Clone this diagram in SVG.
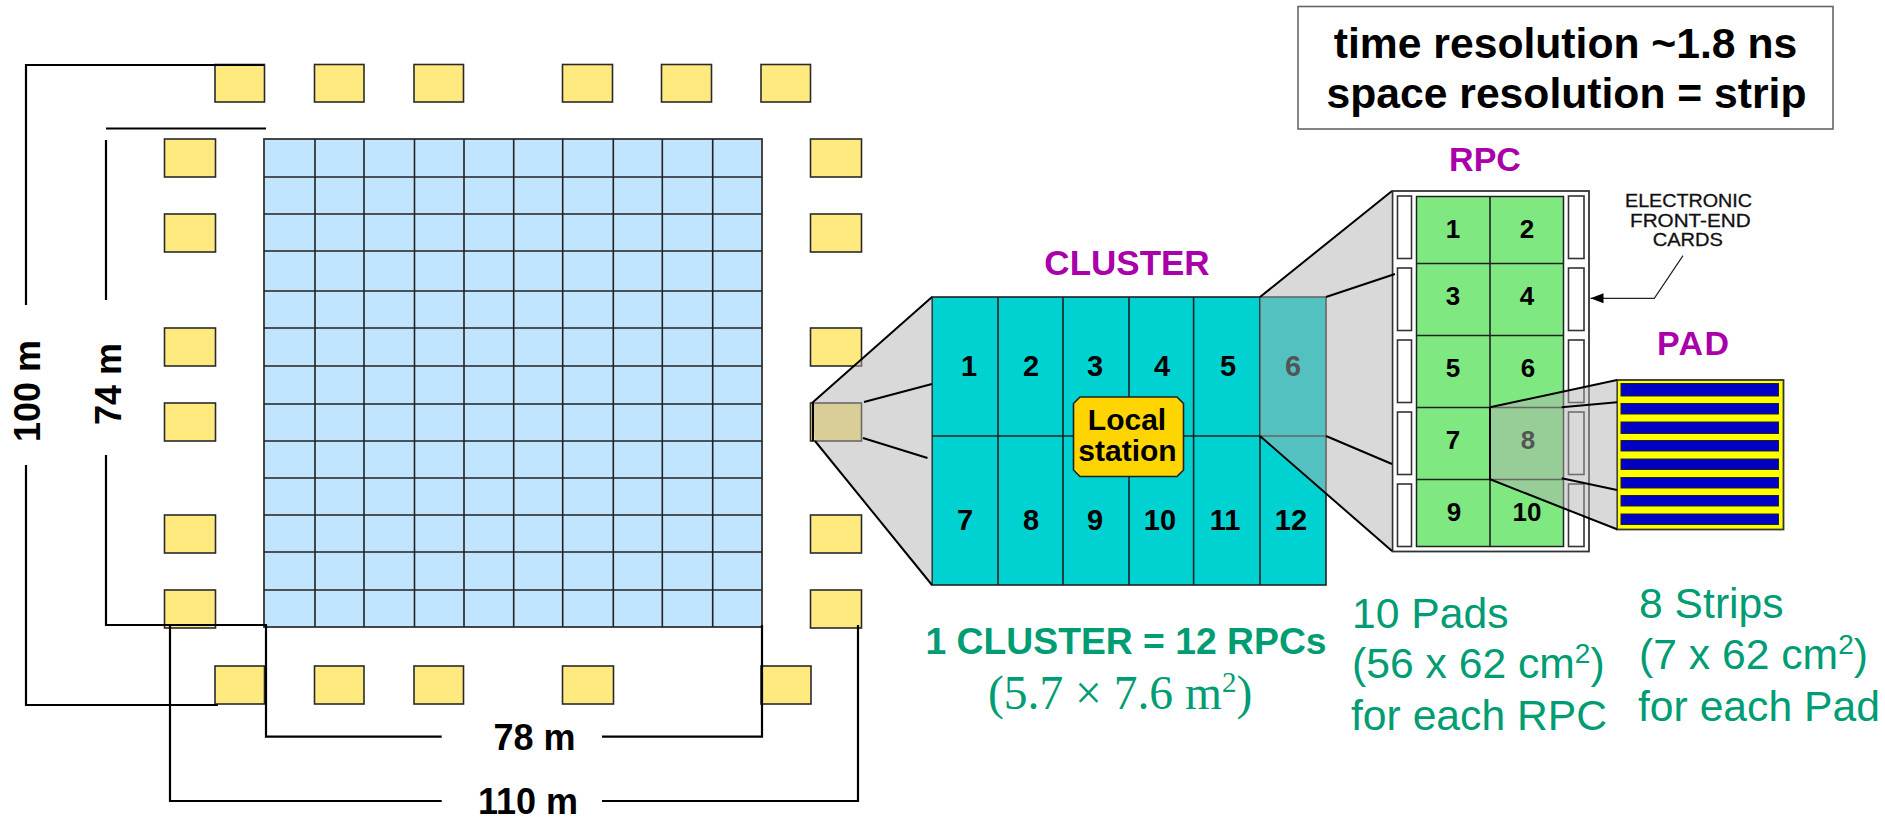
<svg xmlns="http://www.w3.org/2000/svg" width="1885" height="819" viewBox="0 0 1885 819">
<style>
text{font-family:"Liberation Sans",Arial,sans-serif}
.s{fill:#FFEA80;stroke:#2a2a2a;stroke-width:1.6}
.g{fill:none;stroke:#222;stroke-width:1.6}
.gf{fill:#C2E5FF;stroke:#333;stroke-width:1.8}
.teal{fill:#00D2D2;stroke:#222;stroke-width:1.6}
.green{fill:#80E880;stroke:#222;stroke-width:1.5}
.card{fill:#fff;stroke:#333;stroke-width:1.6}
.strip{fill:#0000C4;stroke:#222;stroke-width:1}
.d{fill:none;stroke:#000;stroke-width:2.2}
.z{fill:none;stroke:#000;stroke-width:2}
.o{fill:#B0B0B0;fill-opacity:.48;stroke:none}
.t{font-weight:700;font-size:36px;fill:#000}
.n{font-weight:700;font-size:29px;fill:#000;text-anchor:middle}
.r{font-weight:700;font-size:26px;fill:#000;text-anchor:middle}
.p{font-weight:700;font-size:35px;fill:#AA00AA}
.c{font-size:42.67px;fill:#009C74}
.e{font-size:18.5px;fill:#111;font-weight:400;stroke:#111;stroke-width:.3}
</style>
<defs><marker id="ah" markerUnits="userSpaceOnUse" markerWidth="14" markerHeight="12" refX="13" refY="6" orient="auto"><path d="M0 1L13 6L0 11z" fill="#000"/></marker></defs>

<g id="sensors-top">
<g id="st1"><rect class="s" x="215" y="64.5" width="49.5" height="37.5"/></g>
<g id="st2"><rect class="s" x="314.5" y="64.5" width="49.5" height="37.5"/></g>
<g id="st3"><rect class="s" x="414" y="64.5" width="49.5" height="37.5"/></g>
<g id="st4"><rect class="s" x="562.5" y="64.5" width="50" height="37.5"/></g>
<g id="st5"><rect class="s" x="661.5" y="64.5" width="50" height="37.5"/></g>
<g id="st6"><rect class="s" x="761" y="64.5" width="49.5" height="37.5"/></g>
</g>
<g id="sensors-left">
<g id="sl1"><rect class="s" x="164.5" y="139" width="51" height="38"/></g>
<g id="sl2"><rect class="s" x="164.5" y="214" width="51" height="38"/></g>
<g id="sl3"><rect class="s" x="164.5" y="328" width="51" height="38"/></g>
<g id="sl4"><rect class="s" x="164.5" y="403" width="51" height="38"/></g>
<g id="sl5"><rect class="s" x="164.5" y="515" width="51" height="38"/></g>
<g id="sl6"><rect class="s" x="164.5" y="590" width="51" height="38"/></g>
</g>
<g id="sensors-right">
<g id="sr1"><rect class="s" x="810.5" y="139" width="51" height="38"/></g>
<g id="sr2"><rect class="s" x="810.5" y="214" width="51" height="38"/></g>
<g id="sr3"><rect class="s" x="810.5" y="328" width="51" height="38"/></g>
<g id="sr4"><rect class="s" x="810.5" y="403" width="51" height="38"/></g>
<g id="sr5"><rect class="s" x="810.5" y="515" width="51" height="38"/></g>
<g id="sr6"><rect class="s" x="810.5" y="590" width="51" height="38"/></g>
</g>
<g id="sensors-bottom">
<g id="sb1"><rect class="s" x="215" y="666" width="49.5" height="38"/></g>
<g id="sb2"><rect class="s" x="314.5" y="666" width="49.5" height="38"/></g>
<g id="sb3"><rect class="s" x="414" y="666" width="49.5" height="38"/></g>
<g id="sb4"><rect class="s" x="562.5" y="666" width="51" height="38"/></g>
<g id="sb5"><rect class="s" x="761" y="666" width="50" height="38"/></g>
</g>

<g id="array">
<rect class="gf" x="264" y="139" width="498" height="488"/>
<path class="g" d="M315 139V627M364 139V627M414.5 139V627M464 139V627M513.7 139V627M562.7 139V627M613.3 139V627M662.3 139V627M712.7 139V627M264 177H762M264 214H762M264 251H762M264 291H762M264 328H762M264 366H762M264 404H762M264 441H762M264 478H762M264 515H762M264 552H762M264 590H762"/>
</g>

<g id="cluster">
<rect class="teal" x="932" y="297" width="394" height="288"/>
<path class="g" d="M998 297V585M1063 297V585M1129 297V585M1193.6 297V585M1260 297V585M932 436H1326"/>
<text class="n" x="969" y="375.7">1</text><text class="n" x="1031" y="375.7">2</text><text class="n" x="1095" y="375.7">3</text><text class="n" x="1162" y="375.7">4</text><text class="n" x="1228" y="375.7">5</text><text class="n" x="1293" y="375.7">6</text>
<text class="n" x="965" y="530">7</text><text class="n" x="1031" y="530">8</text><text class="n" x="1095" y="530">9</text><text class="n" x="1160" y="530">10</text><text class="n" x="1225" y="530">11</text><text class="n" x="1291" y="530">12</text>
<text class="p" x="1127" y="275" text-anchor="middle">CLUSTER</text>
</g>
<g id="local-station">
<path d="M1080 397H1177L1183.5 403.500V470L1177 476.500H1080L1073.500 470V403.500z" fill="#FFD500" stroke="#222" stroke-width="1.6"/>
<text x="1127" y="430" font-size="30" font-weight="700" text-anchor="middle" fill="#000">Local</text>
<text x="1127.500" y="460.700" font-size="30" font-weight="700" text-anchor="middle" fill="#000">station</text>
</g>

<g id="rpc">
<rect x="1392.500" y="191" width="196.500" height="360.500" fill="#fff" stroke="#333" stroke-width="1.800"/>
<rect class="card" x="1397.500" y="196" width="14" height="62.500"/><rect class="card" x="1397.500" y="268" width="14" height="62.500"/><rect class="card" x="1397.500" y="340" width="14" height="62.500"/><rect class="card" x="1397.500" y="412" width="14" height="62.500"/><rect class="card" x="1397.500" y="484" width="14" height="62.500"/>
<rect class="card" x="1568.500" y="196" width="15.500" height="62.500"/><rect class="card" x="1568.500" y="268" width="15.500" height="62.500"/><rect class="card" x="1568.500" y="340" width="15.500" height="62.500"/><rect class="card" x="1568.500" y="412" width="15.500" height="62.500"/><rect class="card" x="1568.500" y="484" width="15.500" height="62.500"/>
<rect class="green" x="1416.500" y="196.500" width="147" height="350"/>
<path class="g" d="M1490 196.500V546.500M1416.500 263.500H1563.500M1416.500 335.500H1563.500M1416.500 407.500H1563.500M1416.500 479.500H1563.500"/>
<text class="r" x="1453" y="238.300">1</text><text class="r" x="1527" y="238.300">2</text><text class="r" x="1453" y="305">3</text><text class="r" x="1527" y="305">4</text><text class="r" x="1453" y="377">5</text><text class="r" x="1528" y="377">6</text><text class="r" x="1453" y="449">7</text><text class="r" x="1528" y="449">8</text><text class="r" x="1454" y="521">9</text><text class="r" x="1527" y="521">10</text>
<text class="p" x="1485" y="171" text-anchor="middle" style="font-size:34px">RPC</text>
</g>

<g id="pad">
<rect x="1617" y="380" width="166.500" height="149.500" fill="#FFFF00" stroke="#333" stroke-width="1.800"/>
<rect class="strip" x="1621" y="383.500" width="157.500" height="12.500"/><rect class="strip" x="1621" y="403.500" width="157.500" height="10.500"/><rect class="strip" x="1621" y="422" width="157.500" height="11.500"/><rect class="strip" x="1621" y="440.500" width="157.500" height="10.500"/><rect class="strip" x="1621" y="459" width="157.500" height="10.500"/><rect class="strip" x="1621" y="477.500" width="157.500" height="10.500"/><rect class="strip" x="1621" y="495.500" width="157.500" height="10.500"/><rect class="strip" x="1621" y="514" width="157.500" height="10.500"/>
<text class="p" x="1657" y="355" textLength="72" style="font-size:34px">PAD</text>
</g>

<g id="cards-note">
<text class="e" x="1625" y="207.300" textLength="127" lengthAdjust="spacingAndGlyphs">ELECTRONIC</text>
<text class="e" x="1630" y="227" textLength="120.700" lengthAdjust="spacingAndGlyphs">FRONT-END</text>
<text class="e" x="1652.700" y="245.700" textLength="70.300" lengthAdjust="spacingAndGlyphs">CARDS</text>
</g>

<g id="resolution-box">
<rect x="1298" y="6.500" width="535" height="122.500" fill="#fff" stroke="#666" stroke-width="1.600"/>
<text x="1565.500" y="58" font-size="42.670" font-weight="700" text-anchor="middle" fill="#000">time resolution ~1.8 ns</text>
<text x="1566.500" y="108" font-size="42.670" font-weight="700" text-anchor="middle" fill="#000">space resolution = strip</text>
</g>

<g id="captions">
<text x="925.500" y="654" font-size="37.300" font-weight="700" fill="#009C74">1 CLUSTER = 12 RPCs</text>
<text x="988" y="709" font-size="47.500" fill="#009C74" style="font-family:'Liberation Serif','Times New Roman',serif">(5.7 × 7.6 m<tspan font-size="29" dy="-17">2</tspan><tspan dy="17">)</tspan></text>
<text class="c" x="1352" y="628">10 Pads</text>
<text class="c" x="1352" y="678">(56 x 62 cm<tspan font-size="28" dy="-15">2</tspan><tspan dy="15">)</tspan></text>
<text class="c" x="1351" y="730">for each RPC</text>
<text class="c" x="1639" y="618">8 Strips</text>
<text class="c" x="1639" y="669">(7 x 62 cm<tspan font-size="28" dy="-15">2</tspan><tspan dy="15">)</tspan></text>
<text class="c" x="1638" y="720.700">for each Pad</text>
</g>
<g id="dimension-labels">
<text class="t" transform="translate(39.500 391) rotate(-90)" text-anchor="middle">100 m</text>
<text class="t" transform="translate(121 384) rotate(-90)" text-anchor="middle">74 m</text>
<text class="t" x="534.500" y="750" text-anchor="middle">78 m</text>
<text class="t" x="528" y="814" text-anchor="middle">110 m</text>
</g>

<g id="connectors">
<path class="d" d="M26 305V65H264M26 465V705H218"/>
<path class="d" d="M106 128.500H266M106 140V300M106 455V625H266V736.700H441.700M602 736.700H762V625"/>
<path class="d" d="M170 625V801H441.700M602 801H858V625"/>
<polygon class="o" points="812,403 932,297 932,585 815,441"/>
<path class="z" d="M813 403V441M812 403L932 297M815 441L932 585M864 402L932 384M863 438L927.500 458"/>
<polygon class="o" points="1260,297 1392,191 1392,551 1260,436"/>
<path class="z" d="M1260 297L1392 191M1260 436L1392 551M1326 297L1395 274M1326 436L1392 464"/>
<polygon class="o" points="1490,407.300 1617,380 1617,529.300 1490,479.300"/>
<path class="z" d="M1490 407.300L1617 380M1490 407.300V479.300M1490 479.300L1617 529.300M1561.700 407.300L1617 402.300M1561.700 478.300L1617 490"/>
<path d="M1683 255.700L1654.300 298.300H1590.500" fill="none" stroke="#222" stroke-width="1.200" marker-end="url(#ah)"/>
</g>
</svg>
